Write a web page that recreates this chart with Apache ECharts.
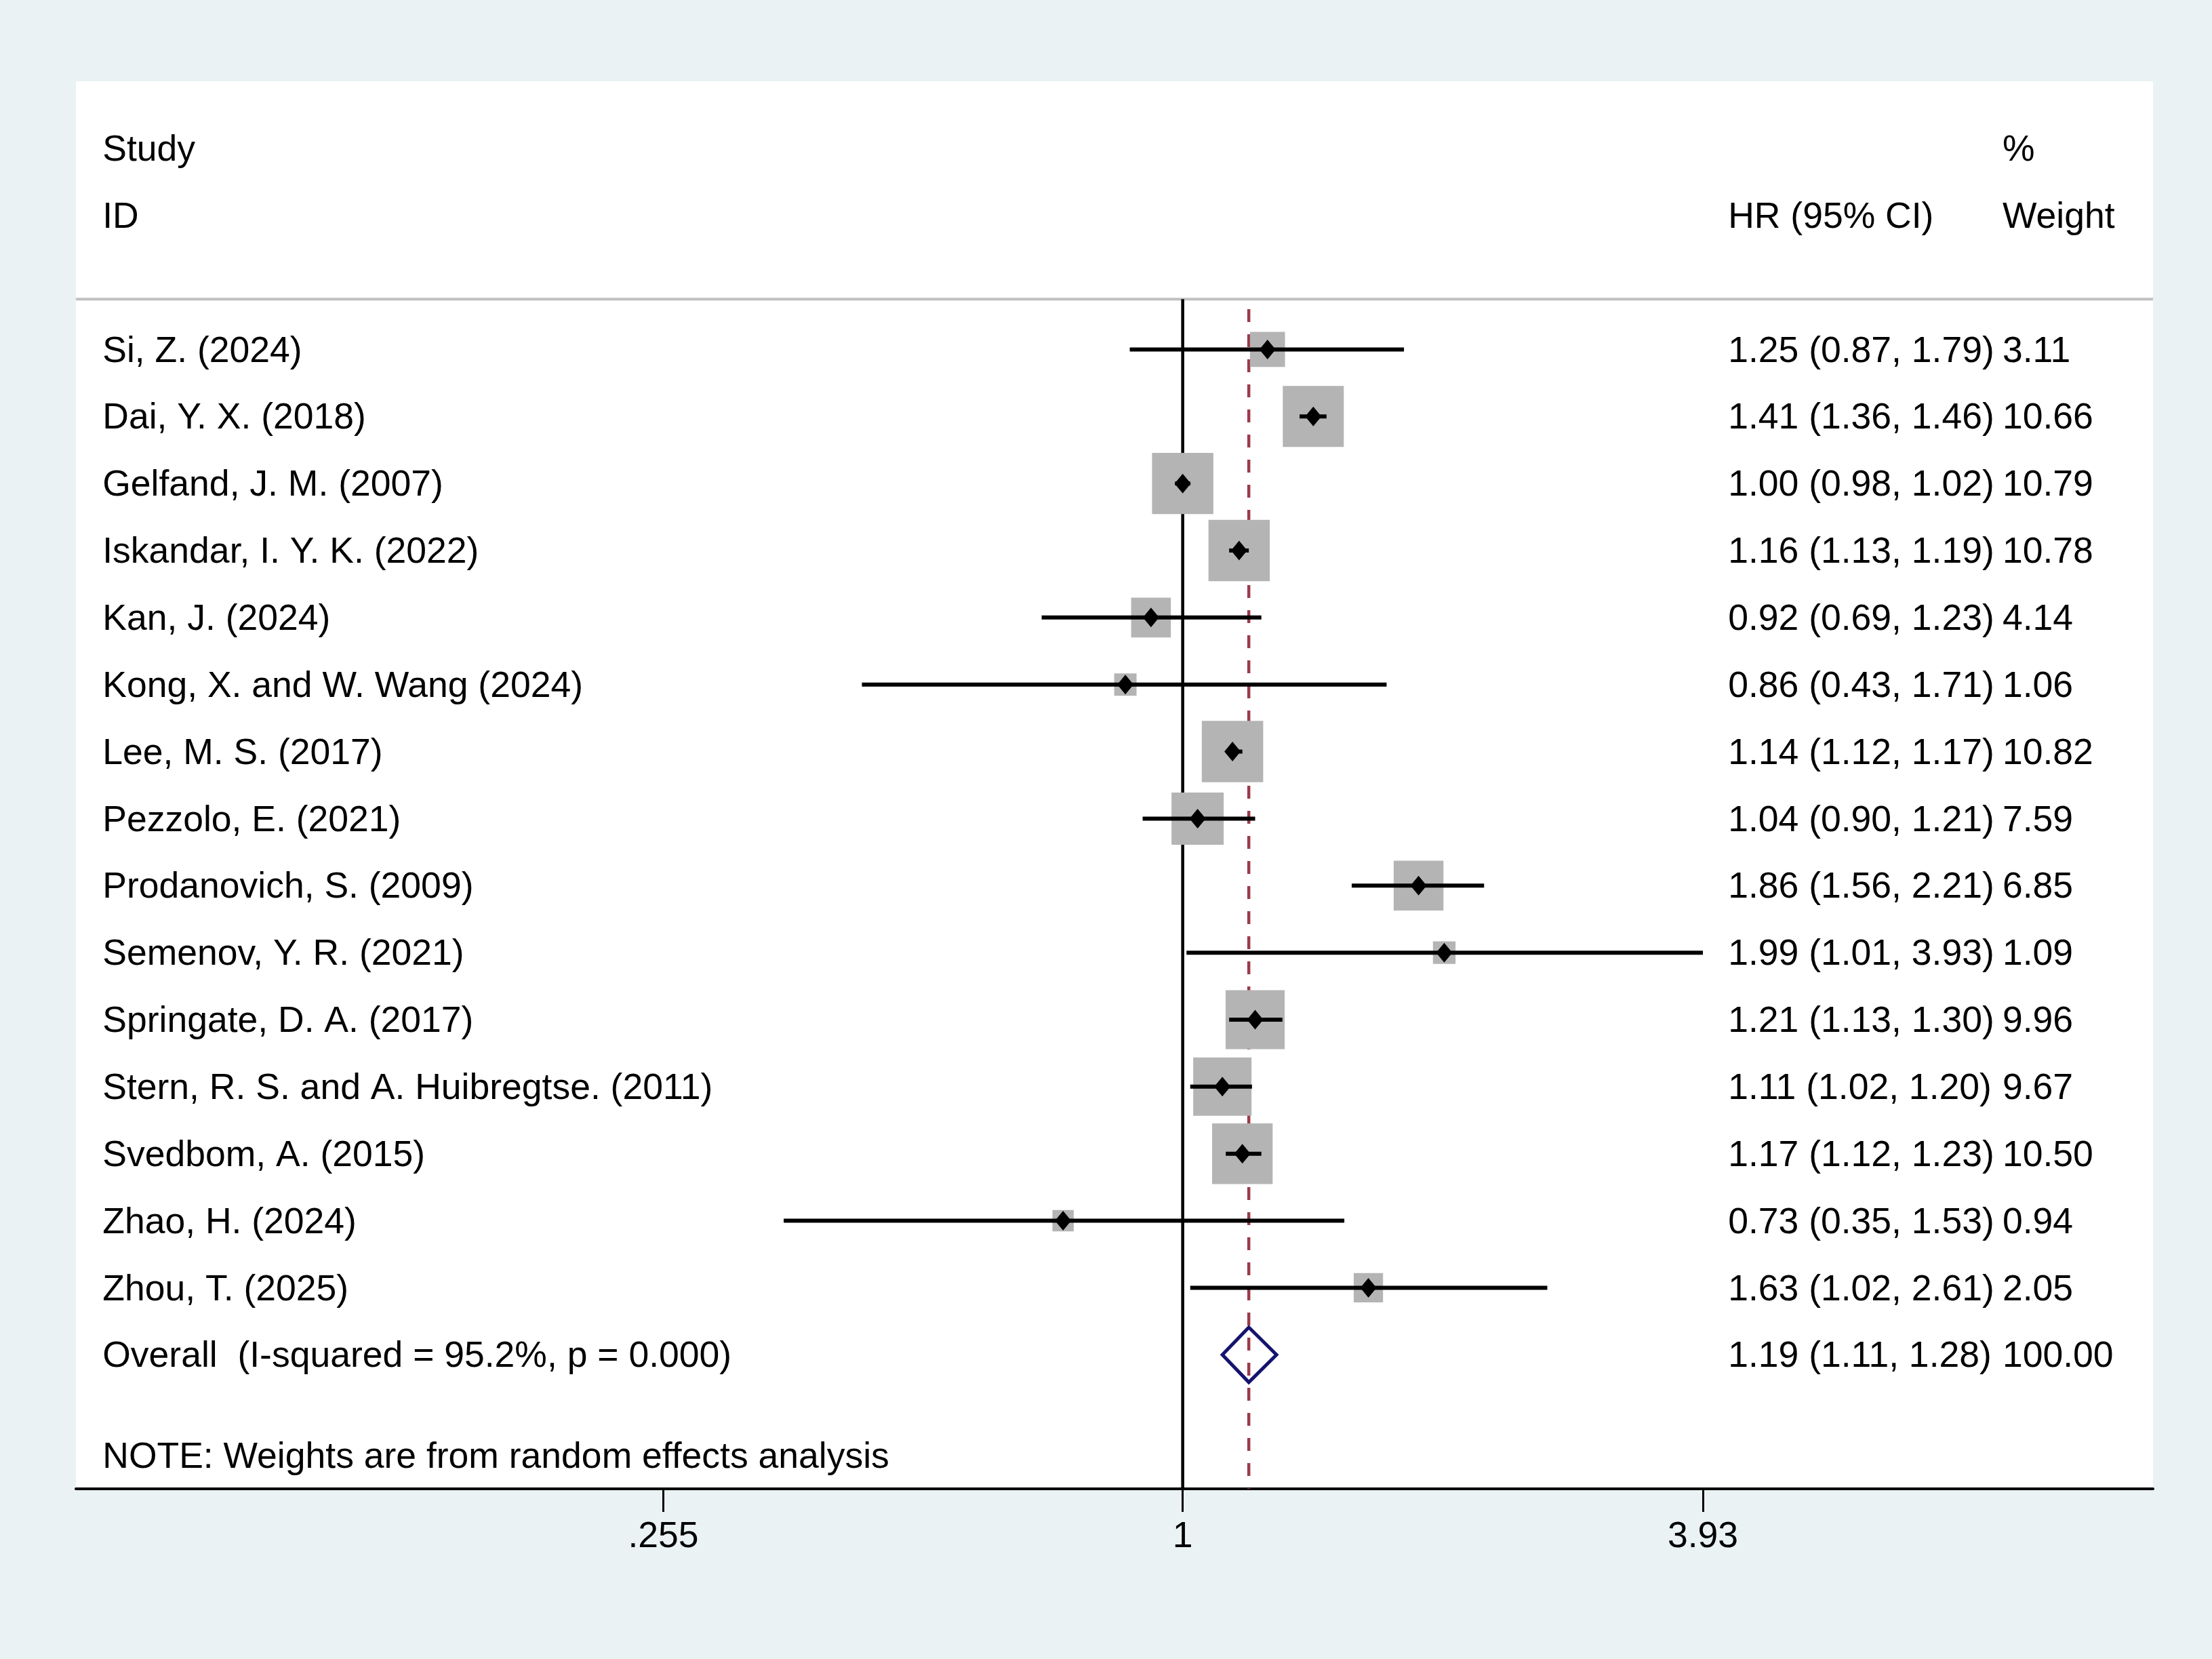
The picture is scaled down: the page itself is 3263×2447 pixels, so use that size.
<!DOCTYPE html>
<html>
<head>
<meta charset="utf-8">
<title>Forest plot</title>
<script src="https://cdn.jsdelivr.net/npm/echarts@6/dist/echarts.min.js"></script>
<style>
  html, body { margin: 0; padding: 0; background: #EAF2F3; }
  #chart { width: 3263px; height: 2447px; }
</style>
</head>
<body>
<div id="chart"></div>
<script>
// data
var studies = ['Si, Z. (2024)', 'Dai, Y. X. (2018)', 'Gelfand, J. M. (2007)',
    'Iskandar, I. Y. K. (2022)', 'Kan, J. (2024)', 'Kong, X. and W. Wang (2024)',
    'Lee, M. S. (2017)', 'Pezzolo, E. (2021)', 'Prodanovich, S. (2009)',
    'Semenov, Y. R. (2021)', 'Springate, D. A. (2017)',
    'Stern, R. S. and A. Huibregtse. (2011)', 'Svedbom, A. (2015)',
    'Zhao, H. (2024)', 'Zhou, T. (2025)'];
var hr     = [1.25, 1.41, 1.00, 1.16, 0.92, 0.86, 1.14, 1.04, 1.86, 1.99, 1.21, 1.11, 1.17, 0.73, 1.63];
var lower  = [0.87, 1.36, 0.98, 1.13, 0.69, 0.43, 1.12, 0.90, 1.56, 1.01, 1.13, 1.02, 1.12, 0.35, 1.02];
var upper  = [1.79, 1.46, 1.02, 1.19, 1.23, 1.71, 1.17, 1.21, 2.21, 3.93, 1.30, 1.20, 1.23, 1.53, 2.61];
var weight = [3.11, 10.66, 10.79, 10.78, 4.14, 1.06, 10.82, 7.59, 6.85, 1.09, 9.96, 9.67, 10.50, 0.94, 2.05];

var overallLabel = 'Overall  (I-squared = 95.2%, p = 0.000)';
var overall = { hr: 1.19, lower: 1.11, upper: 1.28, weight: 100.00 };
var noteText = 'NOTE: Weights are from random effects analysis';

var tickValues = [0.255, 1, 3.93];
var tickLabels = ['.255', '1', '3.93'];

// layout (x in ln(HR), y in rows)
var XMIN = -2.912, XMAX = 2.553;
var YMIN = -4, YMAX = 17;
var COL_STUDY = -2.842, COL_HR = 1.435, COL_W = 2.157;
var HEADER_LINE = -0.75;
var TEXT_SHIFT = 0.035;
var FONT = '"Liberation Sans", Arial, sans-serif';
var FS = 53.5;

var ln = Math.log;
var fmt = function (v) { return v.toFixed(2); };

// rows 0..14 studies, 15 overall
var overallRow = studies.length;
var noteRow = overallRow + 1.5;

var boxData = [], ciData = [], pointData = [];
for (var i = 0; i < studies.length; i++) {
    boxData.push([ln(hr[i]), i, weight[i]]);
    ciData.push([ln(lower[i]), ln(upper[i]), i]);
    pointData.push([ln(hr[i]), i]);
}

// text cells
var texts = [];
function addText(x, y, s) { texts.push({ x: x, y: y, s: s }); }
addText(COL_STUDY, -3, 'Study');
addText(COL_STUDY, -2, 'ID');
addText(COL_HR, -2, 'HR (95% CI)');
addText(COL_W, -3, '%');
addText(COL_W, -2, 'Weight');
for (var j = 0; j < studies.length; j++) {
    addText(COL_STUDY, j, studies[j]);
    addText(COL_HR, j, fmt(hr[j]) + ' (' + fmt(lower[j]) + ', ' + fmt(upper[j]) + ')');
    addText(COL_W, j, fmt(weight[j]));
}
addText(COL_STUDY, overallRow, overallLabel);
addText(COL_HR, overallRow, fmt(overall.hr) + ' (' + fmt(overall.lower) + ', ' + fmt(overall.upper) + ')');
addText(COL_W, overallRow, fmt(overall.weight));
addText(COL_STUDY, noteRow, noteText);

var textData = texts.map(function (t, k) { return [t.x, t.y + TEXT_SHIFT, k]; });

var chart = echarts.init(document.getElementById('chart'));
var option = {
    animation: false,
    backgroundColor: '#EAF2F3',
    grid: {
        left: 112, right: 87, top: 120, bottom: 251,
        show: true, backgroundColor: '#ffffff', borderWidth: 0
    },
    xAxis: {
        type: 'value',
        min: XMIN,
        max: XMAX,
        axisLine: { show: true, onZero: false, lineStyle: { color: '#000', width: 4 } },
        axisTick: {
            show: true,
            customValues: tickValues.map(ln),
            length: 34,
            lineStyle: { color: '#000', width: 3 }
        },
        axisLabel: {
            customValues: tickValues.map(ln),
            margin: 44,
            color: '#000',
            fontSize: FS,
            fontFamily: FONT,
            formatter: function (v) {
                var best = 0;
                for (var k = 1; k < tickValues.length; k++) {
                    if (Math.abs(ln(tickValues[k]) - v) < Math.abs(ln(tickValues[best]) - v)) best = k;
                }
                return tickLabels[best];
            }
        },
        splitLine: { show: false }
    },
    yAxis: {
        type: 'value',
        min: YMIN,
        max: YMAX,
        inverse: true,
        show: false
    },
    series: [
        {   // header rule
            type: 'line', z: 1, symbol: 'none', silent: true,
            data: [[XMIN, HEADER_LINE], [XMAX, HEADER_LINE]],
            lineStyle: { color: '#c0c0c0', width: 4 }
        },
        {   // null line at HR = 1
            type: 'line', z: 2, symbol: 'none', silent: true,
            data: [[0, HEADER_LINE], [0, YMAX]],
            lineStyle: { color: '#000', width: 4.5 }
        },
        {   // overall effect line
            type: 'line', z: 2, symbol: 'none', silent: true,
            data: [[ln(overall.hr), -0.6], [ln(overall.hr), YMAX]],
            lineStyle: { color: '#9b3a4a', width: 4.5, type: [19, 18] }
        },
        {   // weight boxes
            type: 'scatter', z: 3, symbol: 'rect',
            data: boxData,
            symbolSize: function (d) { return 6.7 + 25.5 * Math.sqrt(d[2]); },
            itemStyle: { color: '#b4b4b4', opacity: 1 }
        },
        {   // confidence intervals
            type: 'custom', z: 4,
            data: ciData,
            renderItem: function (params, api) {
                var a = api.coord([api.value(0), api.value(2)]);
                var b = api.coord([api.value(1), api.value(2)]);
                return {
                    type: 'line',
                    shape: { x1: a[0], y1: a[1], x2: b[0], y2: b[1] },
                    style: { stroke: '#000', lineWidth: 6 }
                };
            }
        },
        {   // point estimates
            type: 'scatter', z: 5, symbol: 'diamond',
            symbolSize: [24, 29],
            data: pointData,
            itemStyle: { color: '#000', opacity: 1 }
        },
        {   // pooled diamond
            type: 'custom', z: 5,
            data: [[ln(overall.lower), ln(overall.hr), ln(overall.upper), overallRow]],
            renderItem: function (params, api) {
                var y = api.value(3), h = 0.41;
                var pts = [
                    api.coord([api.value(0), y]),
                    api.coord([api.value(1), y - h]),
                    api.coord([api.value(2), y]),
                    api.coord([api.value(1), y + h])
                ];
                return {
                    type: 'polygon',
                    shape: { points: pts },
                    style: { fill: 'none', stroke: '#14146e', lineWidth: 5, lineJoin: 'miter' }
                };
            }
        },
        {   // text columns
            type: 'custom', z: 6,
            data: textData,
            renderItem: function (params, api) {
                var p = api.coord([api.value(0), api.value(1)]);
                return {
                    type: 'text',
                    x: p[0], y: p[1],
                    style: {
                        text: texts[api.value(2)].s,
                        fill: '#000',
                        font: FS + 'px ' + FONT,
                        textAlign: 'left',
                        textVerticalAlign: 'middle'
                    }
                };
            }
        }
    ]
};
chart.setOption(option, true);
</script>
</body>
</html>
